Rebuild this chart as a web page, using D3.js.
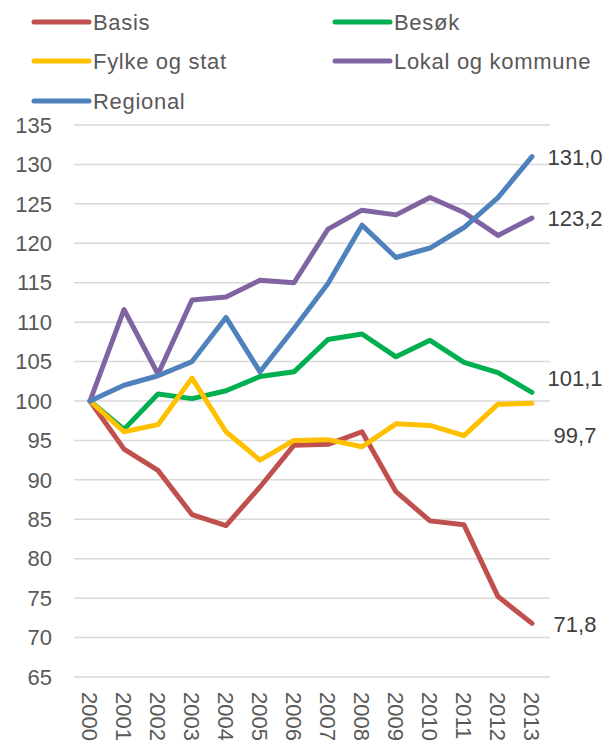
<!DOCTYPE html>
<html>
<head>
<meta charset="utf-8">
<script src="https://cdn.jsdelivr.net/npm/d3@7"></script>
<style>
  html, body { margin: 0; padding: 0; background: #fff; }
  svg { display: block; font-family: "Liberation Sans", Arial, sans-serif; }
</style>
</head>
<body>
<svg id="chart" width="606" height="744"></svg>
<script>
const years = ["2000","2001","2002","2003","2004","2005","2006","2007","2008","2009","2010","2011","2012","2013"];
const yTicks = [65,70,75,80,85,90,95,100,105,110,115,120,125,130,135];

const basis    = [100, 93.9, 91.2, 85.6, 84.2, 89.1, 94.4, 94.5, 96.1, 88.5, 84.8, 84.3, 75.2, 71.8];
const besok    = [100, 96.4, 100.9, 100.3, 101.3, 103.1, 103.7, 107.8, 108.5, 105.6, 107.7, 104.9, 103.6, 101.1];
const fylke    = [100, 96.1, 97.0, 102.9, 96.1, 92.5, 95.0, 95.1, 94.2, 97.1, 96.9, 95.6, 99.6, 99.7];
const lokal    = [100, 111.6, 103.4, 112.8, 113.2, 115.3, 115.0, 121.8, 124.2, 123.6, 125.8, 123.9, 121.0, 123.2];
const regional = [100, 102.0, 103.2, 105.0, 110.6, 103.7, 109.2, 114.9, 122.3, 118.2, 119.4, 122.0, 125.8, 131.0];

const seriesNames  = ["Basis", "Besøk", "Fylke og stat", "Lokal og kommune", "Regional"];
const seriesValues = [basis, besok, fylke, lokal, regional];
const endLabels    = ["71,8", "101,1", "99,7", "123,2", "131,0"];
const colors       = ["#C0504D", "#00B050", "#FFC000", "#8064A2", "#4F81BD"];
// vertical nudges of end labels (px) to avoid overlap, as in the original
const labelNudge   = [1, -14, 32, 0, 1];

const svg = d3.select("#chart");
const textColor = "#595959";
const fontSize = 22;

const x = d3.scalePoint().domain(years).range([73, 549]).padding(0.5);
const y = d3.scaleLinear().domain([65, 135]).range([677, 125]);

// gridlines
svg.append("g").selectAll("line").data(yTicks).join("line")
  .attr("x1", 74).attr("x2", 550)
  .attr("y1", d => y(d)).attr("y2", d => y(d))
  .attr("stroke", "#D9D9D9").attr("stroke-width", 1.5);

// y axis labels
svg.append("g").selectAll("text").data(yTicks).join("text")
  .attr("x", 52).attr("y", d => y(d)).attr("dy", "0.35em")
  .attr("text-anchor", "end").attr("font-size", fontSize)
  .attr("fill", textColor).text(d => d);

// x axis labels (rotated)
svg.append("g").selectAll("text").data(years).join("text")
  .attr("transform", d => `translate(${x(d)},692) rotate(90)`)
  .attr("dy", "0.35em").attr("text-anchor", "start")
  .attr("font-size", fontSize).attr("fill", textColor).text(d => d);

// lines
const line = d3.line().x((d, i) => x(years[i])).y(d => y(d));
svg.append("g").selectAll("path").data(seriesValues).join("path")
  .attr("d", d => line(d))
  .attr("fill", "none")
  .attr("stroke", (d, i) => colors[i])
  .attr("stroke-width", 5)
  .attr("stroke-linejoin", "round")
  .attr("stroke-linecap", "round");

// end labels
svg.append("g").selectAll("text").data(seriesValues).join("text")
  .attr("x", x(years[years.length - 1]) + 43)
  .attr("y", (d, i) => y(d[d.length - 1]) + labelNudge[i])
  .attr("dy", "0.35em").attr("text-anchor", "middle")
  .attr("font-size", fontSize).attr("fill", "#404040")
  .text((d, i) => endLabels[i]);

// legend
const legendPos = [[34, 22], [335, 22], [34, 61], [335, 61], [34, 101]];
const lg = svg.append("g").selectAll("g").data(seriesNames).join("g")
  .attr("transform", (d, i) => `translate(${legendPos[i][0]},${legendPos[i][1]})`);
lg.append("line").attr("x1", 0).attr("x2", 55).attr("y1", 0).attr("y2", 0)
  .attr("stroke", (d, i) => colors[i]).attr("stroke-width", 5).attr("stroke-linecap", "round");
lg.append("text").attr("x", 59).attr("y", 0).attr("dy", "0.35em")
  .attr("font-size", fontSize).attr("letter-spacing", "0.7px")
  .attr("fill", textColor).text(d => d);
</script>
</body>
</html>
